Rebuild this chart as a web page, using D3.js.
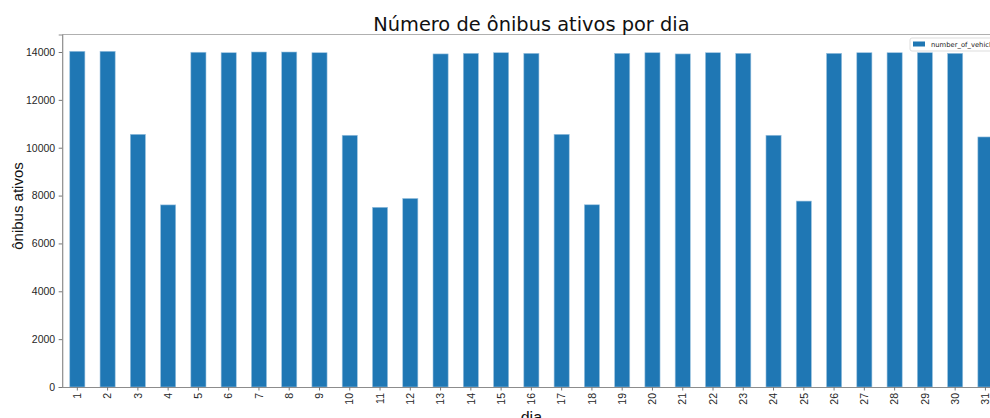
<!DOCTYPE html>
<html>
<head>
<meta charset="utf-8">
<script src="https://cdn.jsdelivr.net/npm/d3@7"></script>
<style>
  html, body { margin: 0; padding: 0; background: #fff; overflow: hidden; }
  svg { display: block; font-family: "DejaVu Sans", sans-serif; }
</style>
</head>
<body>
<svg id="chart" width="990" height="418"></svg>
<script>
const days = d3.range(1, 32).map(String);
const vehicles = [
  14030, 14030, 10560, 7610, 13990, 13970, 14000, 14000, 13970, 10520,
  7510, 7880, 13920, 13945, 13970, 13945, 10560, 7615, 13945, 13970,
  13920, 13970, 13945, 10520, 7770, 13945, 13970, 13970, 13970, 13945,
  10450
];
const yTicks = [0, 2000, 4000, 6000, 8000, 10000, 12000, 14000];
const seriesName = "number_of_vehicles";

const svg = d3.select("#chart");
const plotLeft = 62.2, plotTop = 34.5, plotBottom = 387;
const step = 30.27;
const plotRight = plotLeft + days.length * step;
const tickFont = "'Liberation Sans', Arial, sans-serif";

const x = d3.scaleBand().domain(days).range([plotLeft, plotRight]).paddingInner(0.5).paddingOuter(0.25);
const y = d3.scaleLinear().domain([0, d3.max(vehicles) * 1.05]).range([plotBottom, plotTop]);

const data = days.map((d, i) => ({ day: d, v: vehicles[i] }));

svg.append("g").selectAll("rect").data(data).join("rect")
  .attr("x", d => x(d.day))
  .attr("y", d => y(d.v))
  .attr("width", x.bandwidth())
  .attr("height", d => plotBottom - y(d.v))
  .attr("fill", "#1f77b4")
  .attr("stroke", "#9cc3e0")
  .attr("stroke-width", 0.6);

// top spine
svg.append("line").attr("x1", plotLeft).attr("x2", 990).attr("y1", plotTop).attr("y2", plotTop)
  .attr("stroke", "#b0b0b0").attr("stroke-width", 1.2);

const yAxis = svg.append("g").attr("transform", `translate(${plotLeft},0)`)
  .call(d3.axisLeft(y).tickValues(yTicks).tickSize(3.5).tickPadding(3.5).tickFormat(d3.format("d")));
yAxis.select(".domain").attr("stroke", "#8c8c8c").attr("stroke-width", 1.2);
yAxis.selectAll(".tick line").attr("stroke", "#777");
yAxis.selectAll("text").attr("font-size", 10.5).attr("fill", "#262626").attr("font-family", tickFont);

const xAxis = svg.append("g").attr("transform", `translate(0,${plotBottom})`)
  .call(d3.axisBottom(x).tickSize(3.5).tickSizeOuter(0));
xAxis.select(".domain").attr("stroke", "#8c8c8c").attr("stroke-width", 1.2);
xAxis.selectAll(".tick line").attr("stroke", "#777");
xAxis.selectAll("text")
  .attr("font-size", 10.5).attr("fill", "#262626").attr("font-family", tickFont)
  .attr("transform", "rotate(-90)")
  .attr("text-anchor", "end")
  .attr("dy", "0.35em")
  .attr("x", -6).attr("y", 0);

const cx = (plotLeft + plotRight) / 2;
svg.append("text").attr("x", cx).attr("y", 31)
  .attr("text-anchor", "middle").attr("font-size", 19.4).attr("fill", "#111")
  .text("Número de ônibus ativos por dia");

svg.append("text").attr("transform", `translate(23,206) rotate(-90)`)
  .attr("text-anchor", "middle").attr("font-size", 15).attr("fill", "#111")
  .attr("font-family", tickFont)
  .text("ônibus ativos");

svg.append("text").attr("x", cx).attr("y", 423)
  .attr("text-anchor", "middle").attr("font-size", 16).attr("fill", "#111")
  .attr("font-family", tickFont)
  .text("dia");

// legend
const lg = svg.append("g").attr("transform", "translate(910,38)");
lg.append("rect").attr("x", 0).attr("y", 0).attr("width", 120).attr("height", 13)
  .attr("rx", 2).attr("fill", "#fff").attr("fill-opacity", 0.8).attr("stroke", "#ddd");
lg.append("rect").attr("x", 3).attr("y", 3.5).attr("width", 12).attr("height", 5).attr("fill", "#1f77b4");
lg.append("text").attr("x", 21).attr("y", 9).attr("font-size", 6.8).attr("fill", "#222").text(seriesName);
</script>
</body>
</html>
